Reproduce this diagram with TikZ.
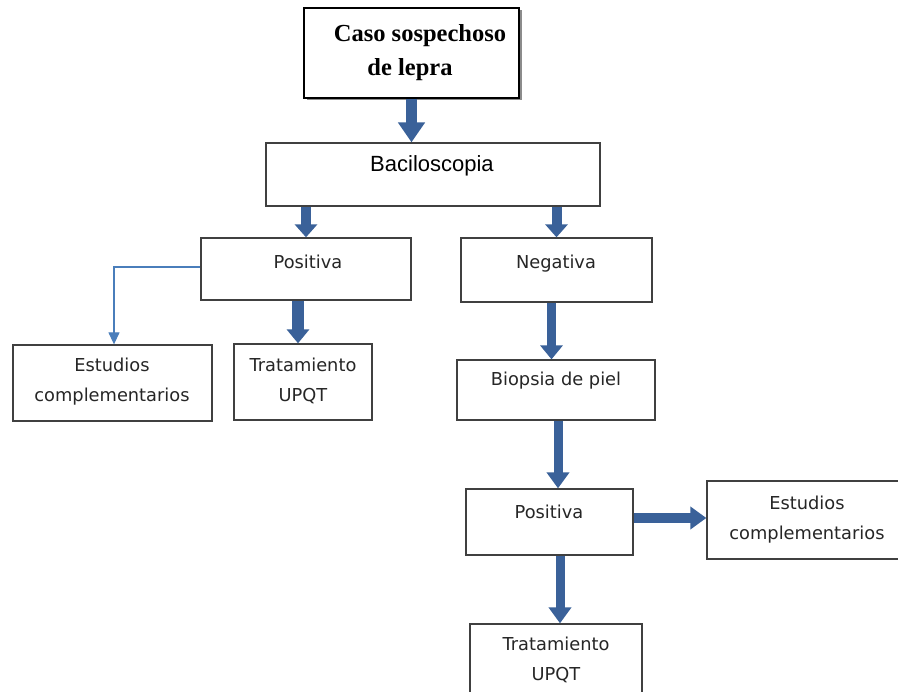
\documentclass[tikz,border=0pt]{standalone}
\usepackage{fontspec}
\setmainfont{DejaVu Sans}
\newfontfamily\arialf{Liberation Sans}
\newfontfamily\timesf{Liberation Serif}
\usetikzlibrary{arrows.meta}
\definecolor{arr}{HTML}{3A6199}
\definecolor{thinblue}{HTML}{4A7EBB}
\begin{document}
\begin{tikzpicture}[x=1pt,y=-1pt,
  box/.style={draw=black!75, line width=1.3pt, inner sep=0pt, fill=white},
  txt/.style={font=\fontsize{17.8}{30}\selectfont, align=center, text=black!85, inner sep=0pt},
  casotxt/.style={inner sep=0pt, font=\timesf\bfseries\fontsize{24.5}{34}\selectfont},
  blk/.style={draw=arr, line width=#1},
  thinarr/.style={draw=thinblue, line width=1.3pt, -{Triangle[width=11pt,length=12pt]}}]
\useasboundingbox (0,0) rectangle (898,692);
\fill[white] (0,0) rectangle (898,692);
% boxes
\fill[black!45] (306.5,10.5) rectangle (521.5,100.5);
\node[box, draw=black, line width=1.8pt, minimum width=215pt, minimum height=90pt] (caso) at (411.5,53) {};
\node[box, minimum width=334pt, minimum height=63pt] (bac) at (433,174.5) {};
\node[box, minimum width=210pt, minimum height=62pt] (pos1) at (306,269) {};
\node[box, minimum width=191pt, minimum height=64pt] (neg) at (556.5,270) {};
\node[box, minimum width=199pt, minimum height=76pt] (est1) at (112.5,383) {};
\node[box, minimum width=138pt, minimum height=76pt] (trat1) at (303,382) {};
\node[box, minimum width=198pt, minimum height=60pt] (bio) at (556,390) {};
\node[box, minimum width=167pt, minimum height=66pt] (pos2) at (549.5,522) {};
\node[box, minimum width=193pt, minimum height=78pt] (est2) at (803.5,520) {};
\node[box, minimum width=172pt, minimum height=76pt] (trat2) at (556,662) {};
% texts
\node[casotxt] (tcaso1) at (420,36) {Caso sospechoso};
\node[casotxt] (tcaso2) at (410,70) {de lepra};
\node[inner sep=0pt, font=\arialf\fontsize{22}{26}\selectfont] (tbac) at (432,166) {Baciloscopia};
\node[txt] (tpos1) at (308,262) {Positiva};
\node[txt] (tneg) at (556,264) {Negativa};
\node[txt] (test1) at (112,382) {Estudios\\complementarios};
\node[txt] (ttrat1) at (303,381) {Tratamiento\\UPQT};
\node[txt] (tbio) at (556,381) {Biopsia de piel};
\node[txt] (tpos2) at (549,512) {Positiva};
\node[txt] (test2) at (807,520) {Estudios\\complementarios};
\node[txt] (ttrat2) at (556,660) {Tratamiento\\UPQT};
% block arrows
\draw[blk=11pt, -{Triangle[width=26pt,length=20pt]}] (caso.south) -- (caso.south |- bac.north);
\draw[blk=10pt, -{Triangle[width=22pt,length=13pt]}] (pos1.north |- bac.south) -- (pos1.north);
\draw[blk=10pt, -{Triangle[width=22pt,length=13pt]}] (neg.north |- bac.south) -- (neg.north);
\draw[blk=12pt, -{Triangle[width=22pt,length=14pt]}] ([xshift=-5pt]trat1.north |- pos1.south) -- ([xshift=-5pt]trat1.north);
\draw[blk=9pt, -{Triangle[width=22pt,length=14pt]}] ([xshift=-5pt]neg.south) -- ([xshift=-5pt]neg.south |- bio.north);
\draw[blk=9pt, -{Triangle[width=22pt,length=16pt]}] ([xshift=2pt]bio.south) -- ([xshift=2pt]bio.south |- pos2.north);
\draw[blk=10pt, -{Triangle[width=22pt,length=16pt]}] ([yshift=4pt]pos2.east) -- ([yshift=4pt]pos2.east -| est2.west);
\draw[blk=9pt, -{Triangle[width=22pt,length=16pt]}] ([xshift=4pt]pos2.south -| trat2.north) -- ([xshift=4pt]trat2.north);
% thin arrow
\draw[thinarr] ([yshift=2pt]pos1.west) -| ([xshift=1.5pt]est1.north);
\end{tikzpicture}
\end{document}
